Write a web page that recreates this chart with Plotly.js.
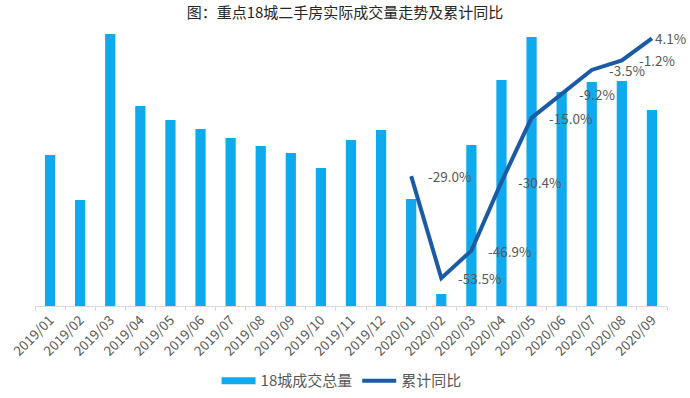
<!DOCTYPE html>
<html><head><meta charset="utf-8">
<script src="https://cdn.plot.ly/plotly-3.0.1.min.js"></script>
<style>html,body{margin:0;padding:0;background:#fff}#c{width:690px;height:398px}</style>
</head><body><div id="c"></div>
<script>
const months = ['2019/01','2019/02','2019/03','2019/04','2019/05','2019/06','2019/07','2019/08','2019/09','2019/10','2019/11','2019/12','2020/01','2020/02','2020/03','2020/04','2020/05','2020/06','2020/07','2020/08','2020/09'];
const volume = [151,106,272,200,186,177,168,160,153,138,166,176,107,12,161,226,269,214,224,225,196];
const yoyMonths = ['2020/01','2020/02','2020/03','2020/04','2020/05','2020/06','2020/07','2020/08','2020/09'];
const yoy = [-29.0,-53.5,-46.9,-30.4,-15.0,-9.2,-3.5,-1.2,4.1];
const yoyLabels = ['-29.0%','-53.5%','-46.9%','-30.4%','-15.0%','-9.2%','-3.5%','-1.2%','4.1%'];

const barColor = '#0DAAEE', lineColor = '#1B5BA5', txt = '#595959';
const font = "'Noto Sans CJK SC', 'Noto Sans', sans-serif";

const traces = [
  {type:'bar', x:months, y:volume, marker:{color:barColor}, name:'18城成交总量', showlegend:false, hoverinfo:'skip'},
  {type:'scatter', mode:'lines', x:[months[0]], y:[null], line:{color:barColor, width:7}, name:'18城成交总量'},
  {type:'scatter', mode:'lines', x:yoyMonths, y:yoy, yaxis:'y2', line:{color:lineColor, width:4}, name:'累计同比'}
];

const last = yoyMonths.length - 1;
const annotations = yoyMonths.map((m,i)=>({
  x:m, y:yoy[i], xref:'x', yref:'y2', text:yoyLabels[i], showarrow:false,
  xanchor:'left', yanchor:'middle', xshift: i === last ? 1 : 15,
  font:{family:font, size:13.5, color:txt}
}));

const layout = {
  width:690, height:398,
  margin:{l:35, r:23, t:30, b:92, autoexpand:false},
  paper_bgcolor:'#fff', plot_bgcolor:'#fff',
  title:{text:'图：重点18城二手房实际成交量走势及累计同比', x:0.5, xanchor:'center', y:0.968, yanchor:'middle',
         font:{family:font, size:15, color:'#262626'}},
  bargap:0.66,
  xaxis:{type:'category', range:[-0.5,20.5], tickangle:-45, showline:true, linecolor:'#d9d9d9', linewidth:1,
         ticks:'outside', tickson:'boundaries', ticklen:4, tickcolor:'#d9d9d9', automargin:false,
         tickfont:{family:font, size:13.5, color:txt}, showgrid:false, fixedrange:true},
  yaxis:{range:[0,276], visible:false, showgrid:false, zeroline:false},
  yaxis2:{range:[-60.2,6.1], overlaying:'y', side:'right', visible:false, showgrid:false, zeroline:false},
  legend:{orientation:'h', x:0.495, xref:'container', xanchor:'center', y:0.043, yref:'container', yanchor:'middle',
          font:{family:font, size:15, color:txt}, itemwidth:34, traceorder:'normal'},
  annotations:annotations,
  showlegend:true
};
Plotly.newPlot('c', traces, layout, {staticPlot:true});
</script></body></html>
